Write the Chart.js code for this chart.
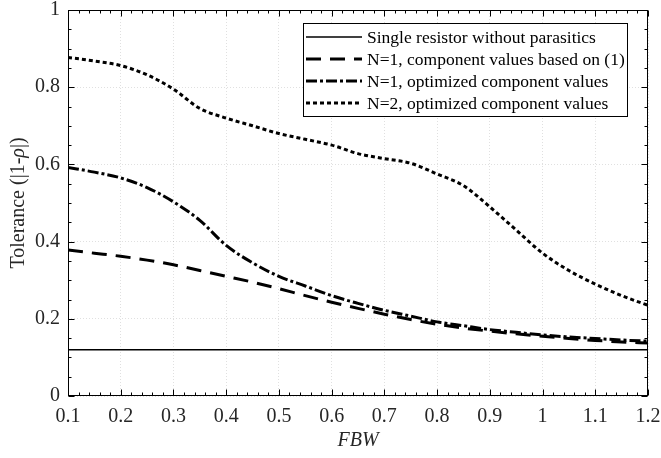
<!DOCTYPE html>
<html><head><meta charset="utf-8">
<script src="https://cdn.jsdelivr.net/npm/chart.js@4/dist/chart.umd.min.js"></script>
<style>html,body{margin:0;padding:0;background:#fff}canvas{display:block}</style>
</head><body>
<canvas id="c" width="661" height="458"></canvas>
<script>
const fbw = [0.10,0.15,0.20,0.25,0.30,0.35,0.40,0.45,0.50,0.55,0.60,0.65,0.70,0.75,0.80,0.85,0.90,0.95,1.00,1.05,1.10,1.15,1.20];
const singleResistor = [0.12,0.12,0.12,0.12,0.12,0.12,0.12,0.12,0.12,0.12,0.12,0.12,0.12,0.12,0.12,0.12,0.12,0.12,0.12,0.12,0.12,0.12,0.12];
const n1Eq1 = [0.378,0.370,0.362,0.352,0.340,0.325,0.310,0.295,0.278,0.260,0.243,0.227,0.212,0.198,0.186,0.176,0.168,0.161,0.155,0.149,0.144,0.140,0.137];
const n1Opt = [0.592,0.580,0.565,0.540,0.503,0.455,0.390,0.345,0.310,0.285,0.260,0.240,0.222,0.207,0.192,0.182,0.172,0.165,0.158,0.153,0.149,0.145,0.142];
const n2Opt = [0.877,0.868,0.856,0.832,0.795,0.745,0.720,0.700,0.680,0.665,0.650,0.628,0.615,0.603,0.575,0.545,0.490,0.430,0.370,0.325,0.290,0.260,0.235];
const seriesNames = ['Single resistor without parasitics','N=1, component values based on (1)','N=1, optimized component values','N=2, optimized component values'];
const xTicks = [0.1,0.2,0.3,0.4,0.5,0.6,0.7,0.8,0.9,1.0,1.1,1.2];
const xTickLabels = ['0.1','0.2','0.3','0.4','0.5','0.6','0.7','0.8','0.9','1','1.1','1.2'];
const yTicks = [0,0.2,0.4,0.6,0.8,1];
const yTickLabels = ['0','0.2','0.4','0.6','0.8','1'];
const xTitle = 'FBW';
const yTitleParts = [['Tolerance (|1-','normal'],['\u03C1','italic'],['|)','normal']];

const FONT = "'Liberation Serif', 'Times New Roman', serif";
const pts = arr => fbw.map((x,i)=>({x:x,y:arr[i]}));
const styles = [
  {borderWidth:1.5, borderDash:[]},
  {borderWidth:3, borderDash:[15,9]},
  {borderWidth:3, borderDash:[11,3,3,3]},
  {borderWidth:3, borderDash:[4,3]}
];
const seriesData = [singleResistor,n1Eq1,n1Opt,n2Opt];
const datasets = seriesData.map((arr,i)=>({
  label: seriesNames[i], data: pts(arr), borderColor:'#000', backgroundColor:'#000',
  borderWidth: styles[i].borderWidth, borderDash: styles[i].borderDash,
  pointRadius:0, cubicInterpolationMode:'monotone', fill:false, borderCapStyle:'butt'
}));

const boxPlugin = {
  id:'boxPlugin',
  afterDraw(chart){
    const {ctx, chartArea:a, scales:{x,y}} = chart;
    ctx.save();
    ctx.strokeStyle='#000'; ctx.lineWidth=1; ctx.setLineDash([]);
    const L=Math.round(a.left)+0.5, R=Math.round(a.right)-0.5, T=Math.round(a.top)+0.5, B=Math.round(a.bottom)-0.5;
    ctx.beginPath();
    for(let k=0;k<=55;k++){
      const v=0.1+k*0.02; const p=Math.round(x.getPixelForValue(v))+0.5;
      const len = (k%5===0)?6:3;
      ctx.moveTo(p,B); ctx.lineTo(p,B-len);
      ctx.moveTo(p,T); ctx.lineTo(p,T+len);
    }
    for(let k=0;k<=20;k++){
      const v=k*0.05; const p=Math.round(y.getPixelForValue(v))+0.5;
      const len = (k%4===0)?6:3;
      ctx.moveTo(L,p); ctx.lineTo(L+len,p);
      ctx.moveTo(R,p); ctx.lineTo(R-len,p);
    }
    ctx.stroke();
    ctx.strokeRect(L,T,R-L,B-T);
    // y title
    ctx.save();
    ctx.translate(19,(a.top+a.bottom)/2);
    ctx.rotate(-Math.PI/2);
    ctx.fillStyle='#262626';
    ctx.textBaseline='middle'; ctx.textAlign='left';
    let total=0;
    yTitleParts.forEach(([t,s])=>{ctx.font=s+' 20px '+FONT; total+=ctx.measureText(t).width;});
    let cx=-total/2;
    yTitleParts.forEach(([t,s])=>{ctx.font=s+' 20px '+FONT; ctx.fillText(t,cx,0); cx+=ctx.measureText(t).width;});
    ctx.restore();
    // legend
    const bw=324,bh=93;
    const bx=Math.round(a.right)-21-bw, by=Math.round(a.top)+13;
    ctx.fillStyle='#fff';
    ctx.fillRect(bx,by,bw,bh);
    ctx.lineWidth=1; ctx.strokeStyle='#000';
    ctx.strokeRect(bx+0.5,by+0.5,bw,bh);
    ctx.font='17.5px '+FONT; ctx.textBaseline='middle'; ctx.textAlign='left';
    chart.data.datasets.forEach((ds,i)=>{
      const ry = by+14+i*22;
      ctx.beginPath();
      ctx.lineWidth=ds.borderWidth; ctx.setLineDash(ds.borderDash); ctx.lineCap='butt';
      ctx.moveTo(bx+3,ry); ctx.lineTo(bx+59,ry); ctx.stroke();
      ctx.setLineDash([]);
      ctx.fillStyle='#000';
      ctx.fillText(ds.label,bx+64,ry+1);
    });
    ctx.restore();
  }
};

new Chart(document.getElementById('c'),{
  type:'line',
  data:{datasets:datasets},
  options:{
    responsive:false, animation:false, devicePixelRatio:1,
    layout:{padding:{top:10,right:13,left:0,bottom:0}},
    plugins:{legend:{display:false},tooltip:{enabled:false}},
    scales:{
      x:{type:'linear',min:0.1,max:1.2,
        afterBuildTicks:s=>{s.ticks=xTicks.map(v=>({value:v}));},
        afterFit:s=>{s.height=62; s.paddingLeft=0; s.paddingRight=0;},
        ticks:{callback:(v,i)=>xTickLabels[i],font:{family:FONT,size:20},color:'#262626',padding:9,maxRotation:0,autoSkip:false},
        grid:{color:'rgba(0,0,0,0.12)',lineWidth:1,drawTicks:false},
        border:{display:false,dash:[1,2]},
        title:{display:true,text:xTitle,font:{family:FONT,size:20,style:'italic'},color:'#262626',padding:{top:0,bottom:5}}
      },
      y:{type:'linear',min:0,max:1,
        afterBuildTicks:s=>{s.ticks=yTicks.map(v=>({value:v}));},
        afterFit:s=>{s.width=68; s.paddingTop=0; s.paddingBottom=0;},
        ticks:{callback:(v,i)=>yTickLabels[i],font:{family:FONT,size:20},color:'#262626',padding:8,autoSkip:false},
        grid:{color:'rgba(0,0,0,0.12)',lineWidth:1,drawTicks:false},
        border:{display:false,dash:[1,2]}
      }
    }
  },
  plugins:[boxPlugin]
});
</script>
</body></html>
